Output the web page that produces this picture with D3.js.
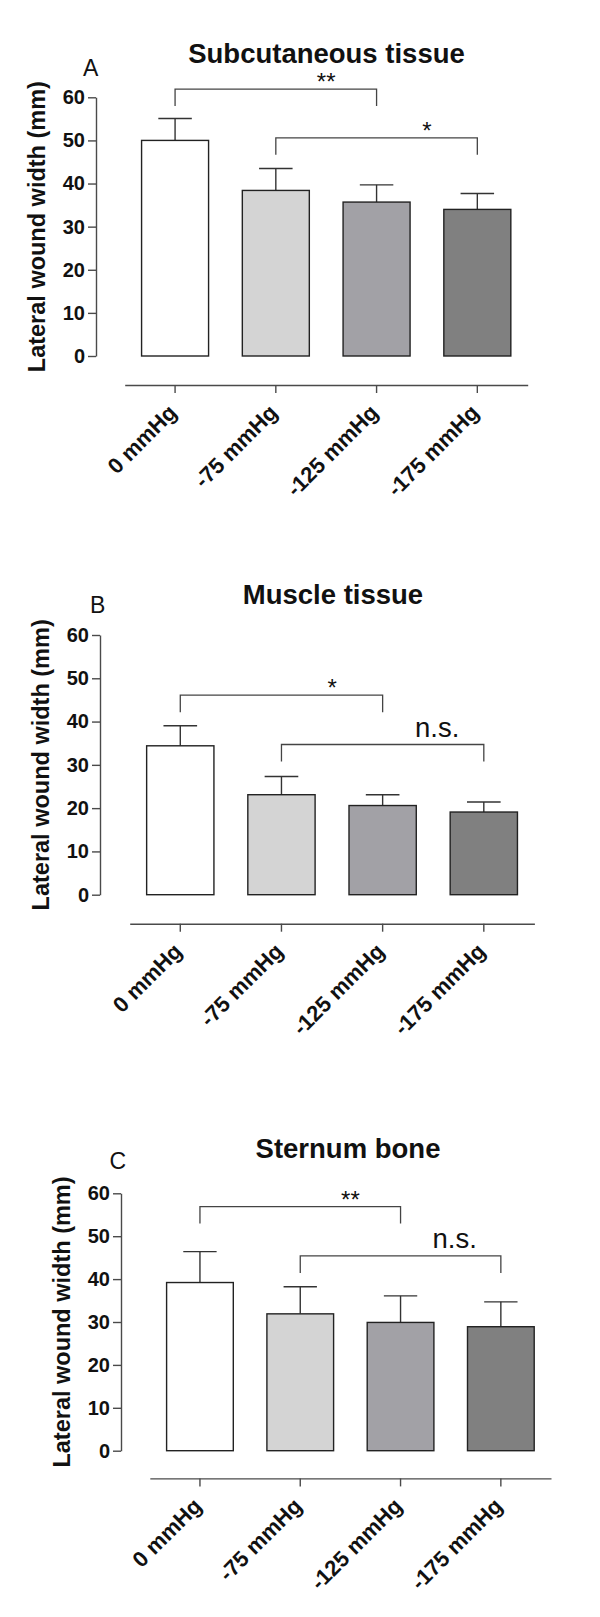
<!DOCTYPE html>
<html>
<head>
<meta charset="utf-8">
<script src="https://cdn.jsdelivr.net/npm/d3@7"></script>
<style>
body{margin:0;background:#fff;}
text{font-family:"Liberation Sans",Arial,Helvetica,sans-serif;}
</style>
</head>
<body>
<div id="chart"></div>
<script>
// values
var categories = ["0 mmHg", "-75 mmHg", "-125 mmHg", "-175 mmHg"]
var yTicks = [0, 10, 20, 30, 40, 50, 60]
var barColors = ["#ffffff", "#d4d4d4", "#a2a1a6", "#808080"]

var subcutMean = [50.0, 38.4, 35.7, 34.0]
var subcutErr = [5.1, 5.1, 4.0, 3.7]
var subcutBrackets = [
    {from: 0, to: 2, level: 61.9, label: "**"},
    {from: 1, to: 3, level: 50.6, label: "*"}
]

var muscleMean = [34.4, 23.1, 20.6, 19.1]
var muscleErr = [4.65, 4.2, 2.5, 2.3]
var muscleBrackets = [
    {from: 0, to: 2, level: 46.1, label: "*"},
    {from: 1, to: 3, level: 34.7, label: "n.s."}
]

var sternumMean = [39.2, 31.9, 29.9, 28.9]
var sternumErr = [7.2, 6.3, 6.2, 5.8]
var sternumBrackets = [
    {from: 0, to: 2, level: 56.9, label: "**"},
    {from: 1, to: 3, level: 45.4, label: "n.s."}
]

var svg = d3.select("#chart").append("svg").attr("width", 600).attr("height", 1617)

drawPanel({letter: "A", title: "Subcutaneous tissue", axisX: 96, yTop: 97.3, yBottom: 356,
    xRange: [124.7, 527.7], xAxisY: 385, letterX: 83, letterY: 75.7, titleX: 326.5, titleY: 63.3},
    subcutMean, subcutErr, subcutBrackets)
drawPanel({letter: "B", title: "Muscle tissue", axisX: 100, yTop: 635, yBottom: 894.7,
    xRange: [129.7, 534.4], xAxisY: 923.7, letterX: 90, letterY: 613.3, titleX: 333, titleY: 604},
    muscleMean, muscleErr, muscleBrackets)
drawPanel({letter: "C", title: "Sternum bone", axisX: 121, yTop: 1193.3, yBottom: 1450.7,
    xRange: [149.8, 551], xAxisY: 1478.4, letterX: 109.5, letterY: 1169, titleX: 348, titleY: 1157.5},
    sternumMean, sternumErr, sternumBrackets)

function drawPanel(lay, means, errs, brackets){
    var g = svg.append("g")
    var x = d3.scaleBand().domain(categories).range(lay.xRange)
        .paddingInner(0.335).paddingOuter(0.1675)
    var y = d3.scaleLinear().domain([0, 60]).range([lay.yBottom, lay.yTop])
    var data = categories.map(function(c, i){ return {cat: c, mean: means[i], err: errs[i], i: i} })

    // y axis
    var yAxis = g.append("g").attr("transform", "translate(" + lay.axisX + ",0)")
        .call(d3.axisLeft(y).tickValues(yTicks).tickSize(8).tickSizeOuter(0).tickPadding(3))
    yAxis.selectAll("path,line").attr("stroke", "#4a4a4a").attr("stroke-width", 1.4)
    yAxis.selectAll("text").attr("font-size", 20).attr("font-weight", "bold").attr("fill", "#111")
        .attr("font-family", "Liberation Sans, Arial, sans-serif")

    // detached x axis
    var xAxis = g.append("g").attr("transform", "translate(0," + lay.xAxisY + ")")
        .call(d3.axisBottom(x).tickSize(8).tickSizeOuter(0))
    xAxis.selectAll("path,line").attr("stroke", "#4a4a4a").attr("stroke-width", 1.4)
    xAxis.selectAll("text").remove()
    g.selectAll(".xlab").data(categories).enter().append("text")
        .attr("class", "xlab")
        .attr("transform", function(d){
            var cx = x(d) + x.bandwidth() / 2 + 3
            return "translate(" + cx + "," + (lay.xAxisY + 29) + ") rotate(-45)"
        })
        .attr("text-anchor", "end")
        .attr("font-size", 22).attr("font-weight", "bold").attr("fill", "#111")
        .text(function(d){ return d })

    // error bars (upper only)
    g.selectAll(".err").data(data).enter().append("line")
        .attr("x1", function(d){ return x(d.cat) + x.bandwidth() / 2 })
        .attr("x2", function(d){ return x(d.cat) + x.bandwidth() / 2 })
        .attr("y1", function(d){ return y(d.mean) })
        .attr("y2", function(d){ return y(d.mean + d.err) })
        .attr("stroke", "#333").attr("stroke-width", 1.4)
    g.selectAll(".cap").data(data).enter().append("line")
        .attr("x1", function(d){ return x(d.cat) + x.bandwidth() / 4 })
        .attr("x2", function(d){ return x(d.cat) + x.bandwidth() * 3 / 4 })
        .attr("y1", function(d){ return y(d.mean + d.err) })
        .attr("y2", function(d){ return y(d.mean + d.err) })
        .attr("stroke", "#333").attr("stroke-width", 1.4)

    // bars
    g.selectAll(".bar").data(data).enter().append("rect")
        .attr("x", function(d){ return x(d.cat) })
        .attr("width", x.bandwidth())
        .attr("y", function(d){ return y(d.mean) })
        .attr("height", function(d){ return y(0) - y(d.mean) })
        .attr("fill", function(d){ return barColors[d.i] })
        .attr("stroke", "#222").attr("stroke-width", 1.4)

    // significance brackets
    for(var k in brackets){
        var b = brackets[k]
        var x1 = x(categories[b.from]) + x.bandwidth() / 2
        var x2 = x(categories[b.to]) + x.bandwidth() / 2
        var by = y(b.level)
        g.append("path")
            .attr("d", "M" + x1 + "," + (by + 17) + "V" + by + "H" + x2 + "V" + (by + 17))
            .attr("fill", "none").attr("stroke", "#444").attr("stroke-width", 1.3)
        var mid = (x(categories[b.from + 1]) + x(categories[b.to])) / 2 + x.bandwidth() / 2
        if(b.label == "n.s."){
            g.append("text").attr("x", mid + 4).attr("y", by - 8)
                .attr("text-anchor", "middle").attr("font-size", 27.5).attr("fill", "#111")
                .text(b.label)
        }
        else{
            g.append("text").attr("x", mid).attr("y", by + 1)
                .attr("text-anchor", "middle").attr("font-size", 24).attr("fill", "#111")
                .text(b.label)
        }
    }

    // y label
    g.append("text")
        .attr("transform", "translate(" + (lay.axisX - 51) + "," + ((lay.yTop + lay.yBottom) / 2) + ") rotate(-90)")
        .attr("text-anchor", "middle").attr("font-size", 23.5).attr("font-weight", "bold").attr("fill", "#111")
        .text("Lateral wound width (mm)")

    // title + panel letter
    g.append("text").attr("x", lay.titleX).attr("y", lay.titleY)
        .attr("text-anchor", "middle").attr("font-size", 27.5).attr("font-weight", "bold").attr("fill", "#111")
        .text(lay.title)
    g.append("text").attr("x", lay.letterX).attr("y", lay.letterY)
        .attr("font-size", 23).attr("fill", "#111")
        .text(lay.letter)
}
</script>
</body>
</html>
